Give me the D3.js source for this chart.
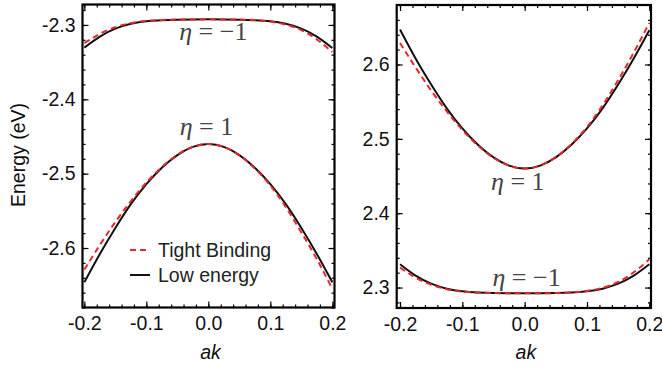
<!DOCTYPE html>
<html>
<head>
<meta charset="utf-8">
<script src="https://cdn.jsdelivr.net/npm/d3@7"></script>
<style>
  body { margin: 0; background: #fff; }
</style>
</head>
<body>
<div id="chart"></div>
<script>
const width = 662
const height = 370

// wave vector grid (ak)
const kGrid = [-0.2, -0.175, -0.15, -0.125, -0.1, -0.075, -0.05, -0.025, 0,
  0.025, 0.05, 0.075, 0.1, 0.125, 0.15, 0.175, 0.2]

// left panel (valence side)
const lowLeftEta1 = [-2.646, -2.608, -2.573, -2.541, -2.514, -2.492, -2.475, -2.464, -2.460,
  -2.464, -2.475, -2.492, -2.514, -2.541, -2.573, -2.608, -2.646]
const tbLeftEta1 = [-2.629, -2.596, -2.565, -2.537, -2.512, -2.491, -2.4745, -2.464, -2.460,
  -2.464, -2.4755, -2.493, -2.516, -2.545, -2.579, -2.615, -2.655]
const lowLeftEtaM1 = [-2.3305, -2.3157, -2.305, -2.2985, -2.295, -2.2937, -2.293, -2.2926, -2.2925,
  -2.2926, -2.293, -2.2937, -2.295, -2.2985, -2.305, -2.3157, -2.331]
const tbLeftEtaM1 = [-2.3245, -2.312, -2.303, -2.2975, -2.2945, -2.2933, -2.2928, -2.2926, -2.2925,
  -2.2926, -2.2928, -2.2934, -2.2955, -2.2995, -2.307, -2.3195, -2.3365]

// right panel (conduction side)
const lowRightEta1 = [2.647, 2.608, 2.573, 2.541, 2.514, 2.492, 2.475, 2.464, 2.460,
  2.464, 2.475, 2.492, 2.514, 2.541, 2.573, 2.608, 2.646]
const tbRightEta1 = [2.629, 2.596, 2.565, 2.537, 2.512, 2.491, 2.4745, 2.464, 2.460,
  2.464, 2.4755, 2.493, 2.516, 2.545, 2.579, 2.616, 2.656]
const lowRightEtaM1 = [2.3313, 2.316, 2.3052, 2.2985, 2.295, 2.2935, 2.2928, 2.2924, 2.2922,
  2.2924, 2.2928, 2.2935, 2.295, 2.2985, 2.3052, 2.316, 2.3313]
const tbRightEtaM1 = [2.3268, 2.3135, 2.3038, 2.2978, 2.2946, 2.2932, 2.2926, 2.2923, 2.2922,
  2.2923, 2.2926, 2.2933, 2.2955, 2.2997, 2.3075, 2.3205, 2.338]

const xTicks = [-0.2, -0.1, 0.0, 0.1, 0.2]
const yTicksLeft = [-2.6, -2.5, -2.4, -2.3]
const yTicksRight = [2.3, 2.4, 2.5, 2.6]
const legendLabels = ["Tight Binding", "Low energy"]

const red = "#e8262b"
const dash = "6,4"
const sans = "'Liberation Sans', Arial, sans-serif"
const serif = "'Liberation Serif', 'DejaVu Serif', serif"
const fmt = d => d3.format(".1f")(d).replace("\u2212", "-")

const svg = d3.select("#chart")
  .append("svg")
  .attr("width", width)
  .attr("height", height)
  .style("font-family", sans)

const panels = [
  {
    x: d3.scaleLinear().domain([-0.203, 0.2035]).range([82.5, 334.5]),
    y: d3.scaleLinear().domain([-2.68, -2.2725]).range([307.5, 4.5]),
    yTicks: yTicksLeft,
    curves: [[lowLeftEta1, tbLeftEta1], [lowLeftEtaM1, tbLeftEtaM1]],
    labels: [{ eta: "1", k: -0.003, e: -2.4478 }, { eta: "\u22121", k: 0.008, e: -2.3202 }],
    legend: true
  },
  {
    x: d3.scaleLinear().domain([-0.2053, 0.2027]).range([396.7, 651]),
    y: d3.scaleLinear().domain([2.2725, 2.68]).range([308, 5]),
    yTicks: yTicksRight,
    curves: [[lowRightEta1, tbRightEta1], [lowRightEtaM1, tbRightEtaM1]],
    labels: [{ eta: "1", k: -0.011, e: 2.431 }, { eta: "\u22121", k: 0.003, e: 2.3025 }],
    legend: false
  }
]

panels.forEach((p, i) => {
  const [x0, x1] = p.x.range()
  const [y0, y1] = p.y.range()
  const g = svg.append("g")
  const minorX = d3.range(-0.2, 0.2001, 0.02)
  const minorY = d3.range(Math.ceil(p.y.domain()[0] / 0.02) * 0.02, p.y.domain()[1], 0.02)

  const clipId = "clip" + i
  svg.append("clipPath").attr("id", clipId)
    .append("rect").attr("x", x0).attr("y", y1).attr("width", x1 - x0).attr("height", y0 - y1)

  // minor + major ticks on all four sides, pointing inward
  const addAxis = (axisFn, scale, vals, size, pos, labels) => {
    const ax = g.append("g")
      .attr("transform", pos)
      .call(axisFn(scale).tickValues(vals).tickSize(size).tickSizeOuter(0)
        .tickPadding(labels ? 8 : 0).tickFormat(labels ? fmt : ""))
    ax.select(".domain").remove()
    ax.selectAll("line").attr("stroke", "#000").attr("stroke-width", 1.2)
    ax.selectAll("text").style("font-size", "19.5px").style("font-family", sans).attr("fill", "#111")
    return ax
  }
  addAxis(d3.axisBottom, p.x, minorX, -3, `translate(0,${y0})`, false)
  addAxis(d3.axisTop, p.x, minorX, -3, `translate(0,${y1})`, false)
  addAxis(d3.axisLeft, p.y, minorY, -3, `translate(${x0},0)`, false)
  addAxis(d3.axisRight, p.y, minorY, -3, `translate(${x1},0)`, false)
  const bx = addAxis(d3.axisBottom, p.x, xTicks, -6, `translate(0,${y0})`, true)
  bx.selectAll("text").attr("dy", "0.71em").attr("y", 9)
  addAxis(d3.axisTop, p.x, xTicks, -6, `translate(0,${y1})`, false)
  const lx = addAxis(d3.axisLeft, p.y, p.yTicks, -6, `translate(${x0},0)`, true)
  lx.selectAll("text").attr("x", -7)
  addAxis(d3.axisRight, p.y, p.yTicks, -6, `translate(${x1},0)`, false)

  const line = d3.line()
    .x((d, j) => p.x(kGrid[j]))
    .y(d => p.y(d))
    .curve(d3.curveNatural)

  const curves = g.append("g").attr("clip-path", `url(#${clipId})`)
  p.curves.forEach(([low, tb]) => {
    curves.append("path").attr("d", line(low))
      .attr("fill", "none").attr("stroke", "#111").attr("stroke-width", 2)
    curves.append("path").attr("d", line(tb))
      .attr("fill", "none").attr("stroke", red).attr("stroke-width", 2)
      .attr("stroke-dasharray", dash)
  })

  // frame
  g.append("rect")
    .attr("x", x0).attr("y", y1).attr("width", x1 - x0).attr("height", y0 - y1)
    .attr("fill", "none").attr("stroke", "#000").attr("stroke-width", 2.2)

  // eta labels
  p.labels.forEach(l => {
    const t = g.append("text")
      .attr("x", p.x(l.k)).attr("y", p.y(l.e))
      .attr("text-anchor", "middle")
      .style("font-family", serif)
      .style("font-size", "26px")
      .attr("fill", "#444")
    t.append("tspan").style("font-style", "italic").text("\u03b7")
    t.append("tspan").text(" = " + l.eta)
  })

  // x label
  g.append("text")
    .attr("x", (x0 + x1) / 2 + 2).attr("y", 359)
    .attr("text-anchor", "middle")
    .style("font-size", "19.5px").style("font-style", "italic")
    .attr("fill", "#111")
    .text("ak")

  if (p.legend) {
    const lg = g.append("g").attr("transform", "translate(130,250)")
    legendLabels.forEach((name, j) => {
      const row = lg.append("g").attr("transform", `translate(0,${j * 25})`)
      row.append("line").attr("x1", 0).attr("x2", 20)
        .attr("stroke", j === 0 ? red : "#111").attr("stroke-width", 2)
        .attr("stroke-dasharray", j === 0 ? dash : null)
      row.append("text").attr("x", 28).attr("y", 0).attr("dy", "0.35em")
        .style("font-size", "19.5px").attr("fill", "#222").text(name)
    })
  }
})

svg.append("text")
  .attr("transform", "translate(18,155) rotate(-90)")
  .attr("text-anchor", "middle")
  .attr("dy", "0.35em")
  .style("font-size", "19.5px")
  .attr("fill", "#111")
  .text("Energy (eV)")
</script>
</body>
</html>
